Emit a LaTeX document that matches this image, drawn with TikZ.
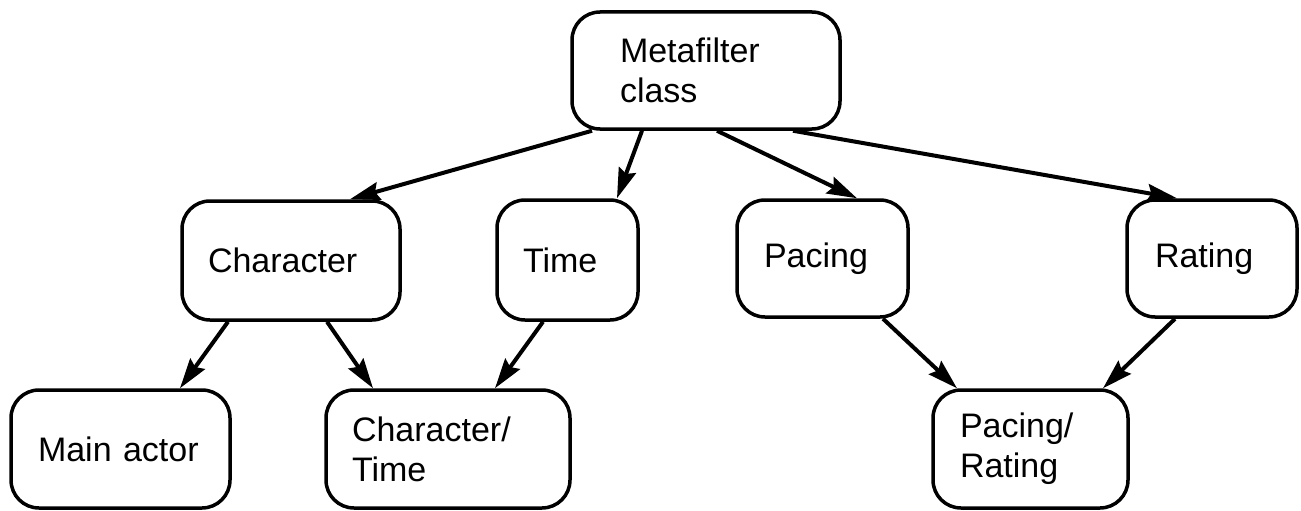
\documentclass[tikz,border=0pt]{standalone}
\usepackage{fontspec}
\setmainfont{Liberation Sans}
\usetikzlibrary{arrows.meta}
\begin{document}
\begin{tikzpicture}[x=1pt,y=-1pt,
  box/.style={draw=black, line width=3.5pt, rounded corners=28pt, inner ysep=0pt,
    inner xsep=27pt, align=left, font=\fontsize{34}{40}\selectfont},
  conn/.style={line width=4pt, -{Stealth[length=30pt,width=18pt,inset=4pt]}}
]
\useasboundingbox (0,0) rectangle (1301,511);
\node[box, inner xsep=48pt, text width=172pt, minimum height=117pt] (meta) at (706,70.5) {Metafilter\\class};
\node[box, inner xsep=26pt, text width=166pt, minimum height=119pt] (char) at (291,260.5) {Character};
\node[box, inner xsep=26pt, text width=89pt, minimum height=120pt] (time) at (567.5,260) {Time};
\node[box, text width=117pt, minimum height=117pt] (pacing) at (822.5,258.5) {Pacing};
\node[box, inner xsep=28pt, text width=114pt, minimum height=117pt] (rating) at (1212,258.5) {Rating};
\node[box, text width=165pt, minimum height=118pt] (main) at (120.5,449) {Main actor};
\node[box, inner xsep=26pt, text width=192pt, minimum height=118pt] (chartime) at (448,449) {Character/\\Time};
\node[box, text width=141pt, minimum height=118pt] (pr) at (1030.5,449) {Pacing/\\Rating};

\draw[conn] ([xshift=-114pt]meta.south) -- ([xshift=59pt]char.north);
\draw[conn] ([xshift=-64pt]meta.south) -- ([xshift=49.5pt]time.north);
\draw[conn] ([xshift=11pt]meta.south) -- ([xshift=34.5pt]pacing.north);
\draw[conn] ([xshift=87pt]meta.south) -- ([xshift=-35pt]rating.north);
\draw[conn] ([xshift=-63pt]char.south) -- ([xshift=59.5pt]main.north);
\draw[conn] ([xshift=36pt]char.south) -- ([xshift=-75pt]chartime.north);
\draw[conn] ([xshift=-24.5pt]time.south) -- ([xshift=47pt]chartime.north);
\draw[conn] ([xshift=60.5pt]pacing.south) -- ([xshift=-73.5pt]pr.north);
\draw[conn] ([xshift=-37pt]rating.south) -- ([xshift=72.5pt]pr.north);
\end{tikzpicture}
\end{document}
